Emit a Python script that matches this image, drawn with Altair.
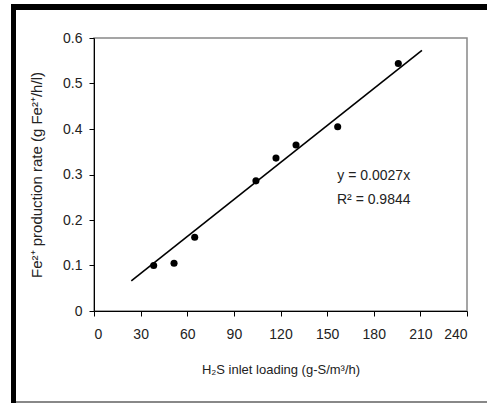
import altair as alt
import pandas as pd

# Observed data
loading = [38.4, 51.5, 64.8, 104.2, 117.1, 130.0, 156.8, 195.8]
fe_rate = [0.100, 0.105, 0.162, 0.286, 0.336, 0.365, 0.405, 0.544]

# Trend line endpoints (y = 0.0027x)
trend_x = [24, 211]
trend_y = [0.066, 0.573]

# Annotation
ann_text = ["y = 0.0027x", "R² = 0.9844"]
ann_x = [180, 180]
ann_y = [0.297, 0.244]

x_ticks = [0, 30, 60, 90, 120, 150, 180, 210, 240]
y_ticks = [0, 0.1, 0.2, 0.3, 0.4, 0.5, 0.6]

FONT = "Liberation Sans"

pts = pd.DataFrame({"x": loading, "y": fe_rate})
trend = pd.DataFrame({"x": trend_x, "y": trend_y})
ann = pd.DataFrame({"x": ann_x, "y": ann_y, "t": ann_text})

xs = alt.Scale(domain=[0, 240], nice=False)
ys = alt.Scale(domain=[0, 0.6], nice=False)

xaxis = alt.Axis(values=x_ticks, title="H₂S inlet loading (g-S/m³/h)", grid=False,
                 format="d", labelFontSize=14, titleFontSize=13, tickSize=5,
                 labelPadding=11, titlePadding=22, domainColor="black", tickColor="black",
                 labelColor="#222", titleColor="#222", labelFont=FONT, titleFont=FONT,
                 titleFontWeight="normal")
yaxis = alt.Axis(values=y_ticks, title="Fe²⁺ production rate (g Fe²⁺/h/l)", grid=False,
                 labelExpr="datum.value == 0 ? '0' : format(datum.value, '.1f')",
                 labelFontSize=14, titleFontSize=15, tickSize=5, labelPadding=7,
                 titlePadding=18, domainColor="black", tickColor="black",
                 labelColor="#222", titleColor="#222", labelFont=FONT, titleFont=FONT,
                 titleFontWeight="normal")

points = alt.Chart(pts).mark_circle(size=50, color="black", opacity=1).encode(
    x=alt.X("x:Q", scale=xs, axis=xaxis),
    y=alt.Y("y:Q", scale=ys, axis=yaxis),
)

line = alt.Chart(trend).mark_line(color="black", strokeWidth=1.6).encode(
    x=alt.X("x:Q", scale=xs),
    y=alt.Y("y:Q", scale=ys),
)

text = alt.Chart(ann).mark_text(fontSize=14, font=FONT, color="#222").encode(
    x=alt.X("x:Q", scale=xs),
    y=alt.Y("y:Q", scale=ys),
    text="t:N",
)

# Decorative frame around the figure
frame_df = pd.DataFrame({"k": [0]})
left_bar = alt.Chart(frame_df).mark_rect(color="black").encode(
    x=alt.value(-83), x2=alt.value(-78), y=alt.value(-34), y2=alt.value(366))
top_bar = alt.Chart(frame_df).mark_rect(color="black").encode(
    x=alt.value(-83), x2=alt.value(400), y=alt.value(-34), y2=alt.value(-28))
bottom_line = alt.Chart(frame_df).mark_rect(color="#888").encode(
    x=alt.value(-78), x2=alt.value(400), y=alt.value(363), y2=alt.value(365))

chart = alt.layer(points, line, text, left_bar, top_bar, bottom_line).properties(
    width=373, height=273,
    autosize=alt.AutoSizeParams(type="none"),
    padding={"left": 94, "top": 38, "right": 20, "bottom": 92},
    background="white",
).configure_view(stroke="#888", strokeWidth=1.5)

chart.save("out.html", embed_options={"renderer": "svg", "actions": False})
